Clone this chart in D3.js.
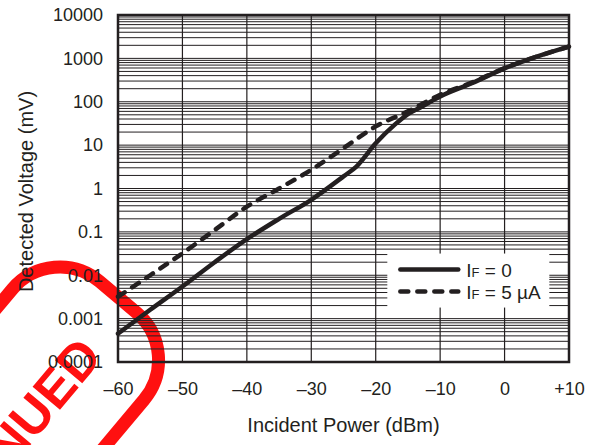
<!DOCTYPE html>
<meta charset="utf-8">
<script src="https://d3js.org/d3.v7.min.js"></script>
<style>
  body { margin: 0; background: #fff; }
  text { font-family: "Liberation Sans", Arial, sans-serif; fill: #231f20; }
</style>
<div id="chart"></div>
<script>
  // ---- data ----
  const powerIF0 = [-60, -55, -50, -45, -40, -35, -30, -25, -23, -20, -17, -15, -13, -10, -5, 0, 5, 10];
  const voltsIF0 = [0.00045, 0.0016, 0.0055, 0.02, 0.068, 0.2, 0.55, 1.9, 3.2, 11, 30, 52, 75, 132, 270, 590, 1100, 1870];

  const powerIF5 = [-60, -55, -50, -45, -40, -35, -30, -25, -20, -15, -10, -5, 0, 5, 10];
  const voltsIF5 = [0.0032, 0.01, 0.032, 0.11, 0.38, 1.0, 2.7, 8.5, 27, 60, 145, 280, 595, 1100, 1870];

  const xTicks = [-60, -50, -40, -30, -20, -10, 0, 10];
  const xTickLabels = ["–60", "–50", "–40", "–30", "–20", "–10", "0", "+10"];
  const yTicks = [0.0001, 0.001, 0.01, 0.1, 1, 10, 100, 1000, 10000];
  const yTickLabels = ["0.0001", "0.001", "0.01", "0.1", "1", "10", "100", "1000", "10000"];

  const seriesNames = ["IF = 0", "IF = 5 µA"];

  // ---- layout ----
  const W = 597, H = 445;
  const margin = { top: 15, right: 28, bottom: 83, left: 118 },
    width = W - margin.left - margin.right,
    height = H - margin.top - margin.bottom;

  const svgRoot = d3.select("#chart").append("svg")
    .attr("width", W).attr("height", H);

  // red "discontinued" stamp, sits behind the chart (only its corner is in view)
  const stamp = svgRoot.append("g")
    .attr("transform", "translate(118,297) rotate(-50)");
  stamp.append("rect")
    .attr("x", -480).attr("y", -86)
    .attr("width", 480).attr("height", 172)
    .attr("rx", 62)
    .attr("fill", "none")
    .attr("stroke", "#ff1010")
    .attr("stroke-width", 13);
  stamp.append("text")
    .attr("x", -55).attr("y", 28)
    .attr("text-anchor", "end")
    .style("font-size", "52px")
    .style("font-weight", "900")
    .style("fill", "#ff1010")
    .text("DISCONTINUED");

  const svg = svgRoot.append("g")
    .attr("transform", `translate(${margin.left},${margin.top})`);

  const x = d3.scaleLinear().domain([-60, 10]).range([0, width]);
  const y = d3.scaleLog().domain([0.0001, 10000]).range([height, 0]);

  // horizontal grid: 1..9 in every decade
  const minor = [];
  yTicks.slice(0, -1).forEach(function (d) {
    for (let k = 1; k <= 9; k++) minor.push(d * k);
  });
  svg.append("g").selectAll("line")
    .data(minor)
    .join("line")
    .attr("x1", 0).attr("x2", width)
    .attr("y1", d => y(d)).attr("y2", d => y(d))
    .attr("stroke", "#231f20")
    .attr("stroke-width", 1);

  // vertical grid
  svg.append("g").selectAll("line")
    .data(xTicks)
    .join("line")
    .attr("x1", d => x(d)).attr("x2", d => x(d))
    .attr("y1", 0).attr("y2", height)
    .attr("stroke", "#231f20")
    .attr("stroke-width", 1.2);

  // frame
  svg.append("rect")
    .attr("width", width).attr("height", height)
    .attr("fill", "none")
    .attr("stroke", "#231f20")
    .attr("stroke-width", 2.5);

  // axes (labels only)
  const xAxis = svg.append("g")
    .attr("transform", `translate(0,${height})`)
    .call(d3.axisBottom(x).tickValues(xTicks).tickSize(0).tickPadding(20)
      .tickFormat((d, i) => xTickLabels[i]));
  const yAxis = svg.append("g")
    .call(d3.axisLeft(y).tickValues(yTicks).tickSize(0).tickPadding(15)
      .tickFormat((d, i) => yTickLabels[i]));
  [xAxis, yAxis].forEach(function (a) {
    a.select(".domain").remove();
    a.selectAll("text").style("font-size", "18px").attr("fill", "#231f20")
      .style("font-family", "'Liberation Sans', Arial, sans-serif");
  });

  // curves
  const line = d3.line()
    .curve(d3.curveMonotoneX)
    .x(d => x(d[0]))
    .y(d => y(d[1]));

  svg.append("path")
    .datum(d3.zip(powerIF5, voltsIF5))
    .attr("fill", "none")
    .attr("stroke", "#231f20")
    .attr("stroke-width", 4.5)
    .attr("stroke-linecap", "round")
    .attr("stroke-dasharray", "8,9")
    .attr("d", line);

  svg.append("path")
    .datum(d3.zip(powerIF0, voltsIF0))
    .attr("fill", "none")
    .attr("stroke", "#231f20")
    .attr("stroke-width", 4.5)
    .attr("stroke-linecap", "round")
    .attr("d", line);

  // legend
  const leg = svg.append("g").attr("transform", `translate(${x(-18.2)},${y(0.03) - 1})`);
  leg.append("rect")
    .attr("width", 162).attr("height", 54)
    .attr("fill", "#fff");
  seriesNames.forEach(function (name, i) {
    const yy = 16 + i * 22;
    leg.append("line")
      .attr("x1", 13).attr("x2", 71)
      .attr("y1", yy).attr("y2", yy)
      .attr("stroke", "#231f20")
      .attr("stroke-width", 4.5)
      .attr("stroke-linecap", "round")
      .attr("stroke-dasharray", i === 0 ? null : "8,9");
    const t = leg.append("text")
      .attr("x", 79).attr("y", yy + 7)
      .style("font-size", "19px");
    t.append("tspan").text("I");
    t.append("tspan").style("font-size", "13px").text("F");
    t.append("tspan").text(name.slice(2));
  });

  // axis titles
  svg.append("text")
    .attr("x", width / 2).attr("y", height + 70)
    .attr("text-anchor", "middle")
    .style("font-size", "20px")
    .text("Incident Power (dBm)");

  svg.append("text")
    .attr("transform", `translate(${-85},${height / 2 + 3}) rotate(-90)`)
    .attr("text-anchor", "middle")
    .style("font-size", "20px")
    .text("Detected Voltage (mV)");
</script>
